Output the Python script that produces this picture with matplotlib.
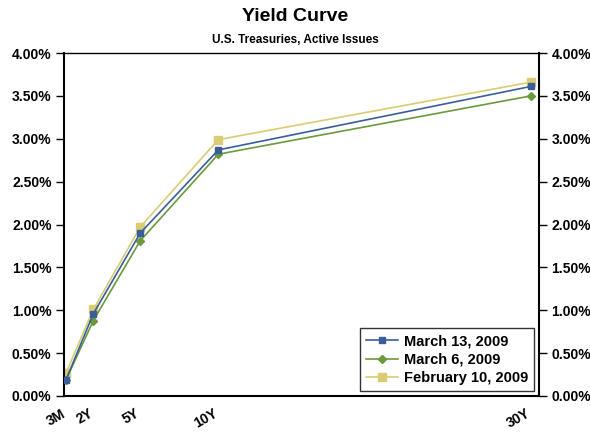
import matplotlib
matplotlib.use("Agg")
import matplotlib.pyplot as plt
import matplotlib.transforms as mtransforms
from matplotlib.ticker import FuncFormatter

# Maturities (in years) and their labels
maturity_years = [0.25, 2, 5, 10, 30]
maturity_labels = ["3M", "2Y", "5Y", "10Y", "30Y"]

# Yields in percent
yield_mar13 = [0.19, 0.96, 1.90, 2.87, 3.61]
yield_mar6 = [0.19, 0.88, 1.81, 2.82, 3.50]
yield_feb10 = [0.27, 1.01, 1.97, 2.99, 3.66]

series_names = ["March 13, 2009", "March 6, 2009", "February 10, 2009"]
y_ticks = [0.0, 0.5, 1.0, 1.5, 2.0, 2.5, 3.0, 3.5, 4.0]

plt.rcParams["font.family"] = ["Liberation Sans", "DejaVu Sans"]
plt.rcParams["font.weight"] = "bold"

fig = plt.figure(figsize=(5.9, 4.33), dpi=100)
ax = fig.add_axes([0.1085, 0.0855, 0.805, 0.792])

ax.plot(maturity_years, yield_mar13, color="#3B5E9A", lw=1.2, marker="s",
        ms=5, label=series_names[0], zorder=3)
ax.plot(maturity_years, yield_mar6, color="#6A9A3C", lw=1.2, marker="D",
        ms=4, label=series_names[1], zorder=2)
ax.plot(maturity_years, yield_feb10, color="#D9CC72", lw=1.2, marker="s",
        ms=6, label=series_names[2], zorder=1)

ax.set_xlim(0.12, 30.53)
ax.set_ylim(0, 4.0)
ax.set_yticks(y_ticks)
pct = FuncFormatter(lambda v, _: f"{v:.2f}%")
ax.yaxis.set_major_formatter(pct)

ax.set_xticks(maturity_years)
ax.set_xticklabels(maturity_labels, rotation=30, ha="right", va="top",
                   rotation_mode="anchor", fontsize=10, fontweight="bold")
ax.tick_params(axis="x", length=0, pad=7.5)
shift = mtransforms.ScaledTranslation(-5 / 100, 0, fig.dpi_scale_trans)
for lab in ax.get_xticklabels():
    lab.set_transform(lab.get_transform() + shift)

ax.tick_params(axis="y", direction="out", length=6, width=1,
               labelsize=10, pad=3, left=True, right=True,
               labelleft=True, labelright=True)
for lab in ax.get_yticklabels():
    lab.set_fontweight("bold")

for side in ["left", "right", "bottom"]:
    ax.spines[side].set_linewidth(1.5)
ax.spines["top"].set_linewidth(1.0)

leg = ax.legend(loc="lower right", bbox_to_anchor=(0.99, 0.015),
                fontsize=10.5, frameon=True, fancybox=False,
                edgecolor="black", handlelength=2.2, handletextpad=0.4,
                borderpad=0.4, labelspacing=0.3, borderaxespad=0)
leg.get_frame().set_linewidth(1.0)
for t in leg.get_texts():
    t.set_fontweight("bold")

fig.text(0.5, 0.962, "Yield Curve", ha="center", va="center",
         fontsize=14, fontweight="bold")
fig.text(0.5, 0.908, "U.S. Treasuries, Active Issues", ha="center",
         va="center", fontsize=8.5, fontweight="bold")

fig.savefig("out.png", dpi=100)
